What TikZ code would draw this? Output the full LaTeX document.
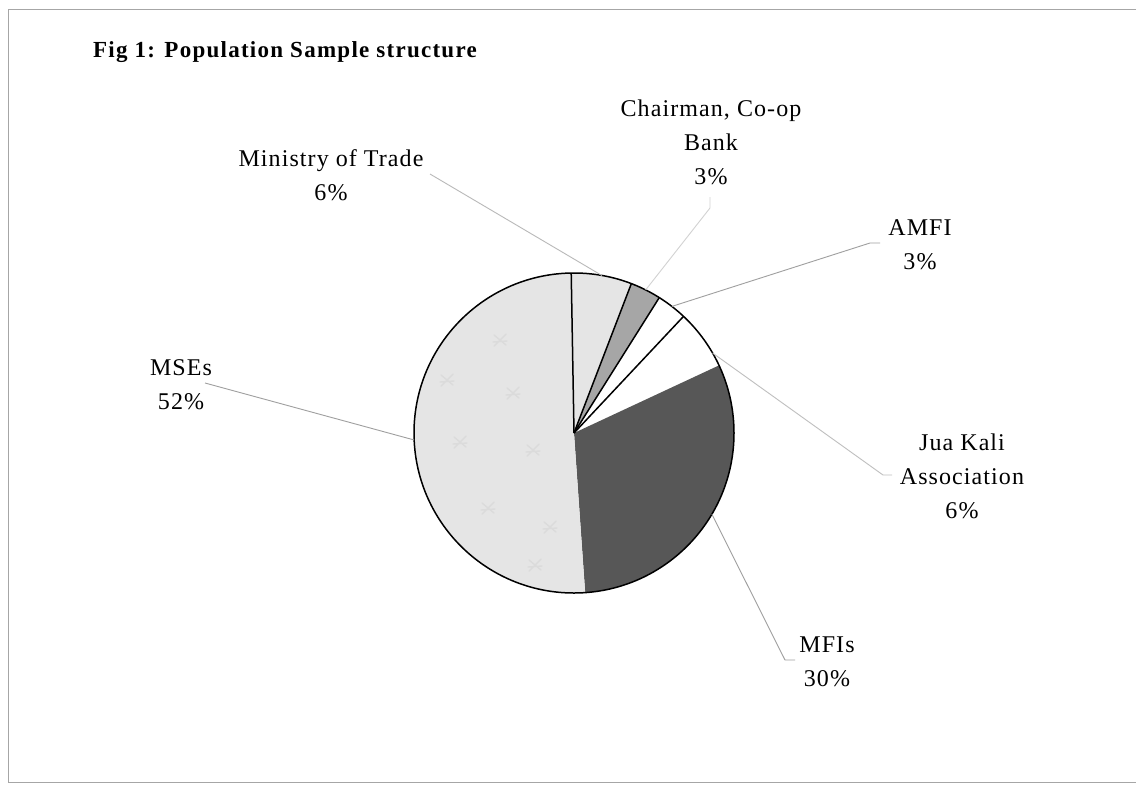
\documentclass[tikz,border=0pt]{standalone}
\usepackage{fontspec}
\usetikzlibrary{calc}
\setmainfont{Liberation Serif}[LetterSpace=4.5]
\newfontfamily\titlefont{Liberation Serif}[LetterSpace=5.5]
\begin{document}
\begin{tikzpicture}[x=1pt,y=-1pt,
  lbl/.style={align=center, font=\fontsize{24}{34}\selectfont, inner sep=0pt},
  ttl/.style={anchor=west, font=\titlefont\fontsize{23}{28}\selectfont\bfseries, inner sep=0pt},
  leader/.style={draw=gray!75, line width=0.9pt},
  faintleader/.style={draw=gray!35, line width=0.9pt},
  sliceedge/.style={draw=black, line width=1.5pt},
  texmark/.style={draw=gray!28, line width=1.4pt, line cap=round}]
\useasboundingbox (0,0) rectangle (1138,785);
\fill[white] (0,0) rectangle (1138,785);
% frame
\draw[gray!70, line width=1pt] (1136,9) -- (8,9) -- (8,782) -- (1136,782);

% title
\node[ttl] (title) at (93,52) {Fig 1: Population Sample structure};

% pie
\coordinate (c) at (574,433);
\fill[black!10] (c) -- ++(91:160pt) arc[start angle=91, end angle=69, radius=160pt] -- cycle;
\fill[black!35] (c) -- ++(69:160pt) arc[start angle=69, end angle=57.8, radius=160pt] -- cycle;
\fill[white] (c) -- ++(57.8:160pt) arc[start angle=57.8, end angle=25, radius=160pt] -- cycle;
\fill[black!66] (c) -- ++(25:160pt) arc[start angle=25, end angle=-86, radius=160pt] -- cycle;
\fill[black!10] (c) -- ++(-86:160pt) arc[start angle=-86, end angle=-269, radius=160pt] -- cycle;
% faint texture in MSEs slice
\foreach \p in {(500,340),(513,393),(460,442),(533,450),(488,508),(550,527),(535,565),(447,380)}{
  \draw[texmark] \p ++(-6,-5) -- ++(12,10) \p ++(6,-6) -- ++(-12,12) \p ++(-7,2) -- ++(14,-1);
}
% slice edges
\draw[sliceedge] (c) -- ++(91:160pt);
\draw[sliceedge] (c) -- ++(69:160pt);
\draw[sliceedge] (c) -- ++(57.8:160pt);
\draw[sliceedge] (c) -- ++(46.8:160pt);
\draw[sliceedge] (c) circle[radius=160pt];

% pie anchor points for leaders
\coordinate (pMoT) at ($(c)+(80:160pt)$);
\coordinate (pCh) at ($(c)+(63.4:160pt)$);
\coordinate (pAM) at ($(c)+(52.3:160pt)$);
\coordinate (pJK) at ($(c)+(30:160pt)$);
\coordinate (pMF) at ($(c)+(-30.5:160pt)$);
\coordinate (pMS) at ($(c)+(-177.5:160pt)$);

% labels
\node[lbl] (MoT) at (331,175) {Ministry of Trade\\6\%};
\node[lbl] (Ch) at (711,142) {Chairman, Co-op\\Bank\\3\%};
\node[lbl] (AM) at (920,245) {AMFI\\3\%};
\node[lbl] (JK) at (962,476) {Jua Kali\\Association\\6\%};
\node[lbl] (MF) at (827,662) {MFIs\\30\%};
\node[lbl] (MS) at (181,385) {MSEs\\52\%};

% leader end coordinates
\coordinate (eMoT) at (430,174);
\coordinate (kCh) at (710,208);
\coordinate (eCh) at (710,197);
\coordinate (kAM) at (870,243);
\coordinate (eAM) at (880,243);
\coordinate (kJK) at (883,475);
\coordinate (eJK) at (892,475);
\coordinate (kMF) at (785,660);
\coordinate (eMF) at (795,660);
\coordinate (eMS) at (205,383);

% leaders
\draw[leader, draw=gray!55] (pMoT) -- (eMoT);
\draw[faintleader] (pCh) -- (kCh) -- (eCh);
\draw[leader] (pAM) -- (kAM) -- (eAM);
\draw[leader, draw=gray!50] (pJK) -- (kJK) -- (eJK);
\draw[leader] (pMF) -- (kMF) -- (eMF);
\draw[leader] (pMS) -- (eMS);
\end{tikzpicture}
\end{document}
